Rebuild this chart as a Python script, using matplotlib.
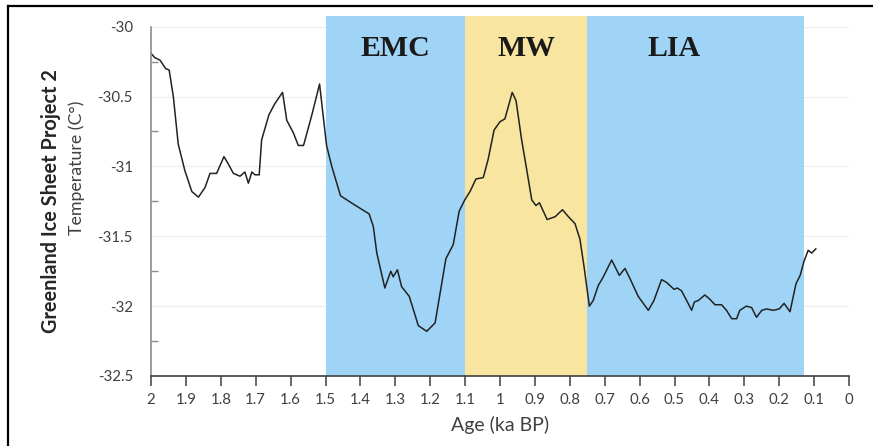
import numpy as np
import matplotlib.pyplot as plt
from matplotlib.lines import Line2D
from matplotlib.ticker import MultipleLocator, FixedLocator

plt.rcParams['font.family'] = ['Lato', 'DejaVu Sans']

# GISP2 temperature record
age = [2.000, 1.990, 1.974, 1.958, 1.948, 1.936, 1.922, 1.903, 1.883, 1.864,
       1.845, 1.831, 1.812, 1.791, 1.779, 1.764, 1.745, 1.731, 1.721, 1.711,
       1.702, 1.690, 1.683, 1.662, 1.645, 1.623, 1.611, 1.592, 1.578, 1.563,
       1.540, 1.517, 1.497, 1.482, 1.457, 1.420, 1.375, 1.363, 1.353, 1.330,
       1.313, 1.306, 1.294, 1.282, 1.260, 1.234, 1.210, 1.186, 1.155, 1.134,
       1.117, 1.101, 1.086, 1.069, 1.048, 1.034, 1.017, 1.000, 0.986, 0.976,
       0.965, 0.954, 0.938, 0.923, 0.909, 0.897, 0.887, 0.865, 0.842, 0.821,
       0.804, 0.785, 0.771, 0.759, 0.744, 0.733, 0.718, 0.706, 0.680, 0.658,
       0.642, 0.628, 0.604, 0.575, 0.559, 0.537, 0.523, 0.501, 0.492, 0.480,
       0.463, 0.451, 0.443, 0.432, 0.413, 0.399, 0.384, 0.365, 0.351, 0.336,
       0.322, 0.313, 0.294, 0.279, 0.265, 0.250, 0.236, 0.217, 0.200, 0.186,
       0.169, 0.152, 0.140, 0.129, 0.117, 0.107, 0.095]
temp = [-30.19, -30.22, -30.24, -30.30, -30.31, -30.50, -30.84, -31.03, -31.18, -31.22,
        -31.15, -31.05, -31.05, -30.93, -30.98, -31.05, -31.07, -31.04, -31.12, -31.04,
        -31.06, -31.06, -30.81, -30.63, -30.55, -30.47, -30.67, -30.76, -30.85, -30.85,
        -30.64, -30.41, -30.85, -31.00, -31.21, -31.27, -31.34, -31.43, -31.62, -31.87,
        -31.75, -31.79, -31.74, -31.86, -31.93, -32.14, -32.18, -32.12, -31.66, -31.56,
        -31.32, -31.24, -31.18, -31.09, -31.08, -30.95, -30.74, -30.68, -30.66, -30.57,
        -30.47, -30.53, -30.81, -31.03, -31.24, -31.28, -31.26, -31.38, -31.36, -31.31,
        -31.36, -31.41, -31.52, -31.72, -32.00, -31.96, -31.85, -31.80, -31.67, -31.78,
        -31.73, -31.80, -31.93, -32.03, -31.96, -31.81, -31.83, -31.88, -31.87, -31.89,
        -31.97, -32.03, -31.97, -31.96, -31.92, -31.95, -31.99, -31.99, -32.03, -32.09,
        -32.09, -32.03, -32.00, -32.01, -32.08, -32.03, -32.02, -32.03, -32.02, -31.98,
        -32.04, -31.84, -31.78, -31.68, -31.60, -31.62, -31.59]

# climate periods: name, start, end, label position
periods = ['EMC', 'MW', 'LIA']
p_start = [1.5, 1.1, 0.75]
p_end = [1.1, 0.75, 0.13]
p_label = [1.3, 0.925, 0.5]
p_color = ['#9fd4f6', '#f8e6a0', '#9fd4f6']

fig = plt.figure(figsize=(8.73, 4.46), dpi=100)
ax = fig.add_axes([151/873, 1 - 376/446, 698/873, 349.3/446])

for s, e, c in zip(p_start, p_end, p_color):
    ax.axvspan(e, s, ymin=0, ymax=1.031, color=c, lw=0, zorder=1, clip_on=False)
for name, xl in zip(periods, p_label):
    ax.text(xl, -30.155, name, ha='center', va='center', fontsize=21.5,
            fontweight='bold', family='Liberation Serif', color='#1a1a1a', zorder=3)

ax.plot(age, temp, color='#222222', lw=1.1, zorder=2)

ax.set_xlim(2, 0)
ax.set_ylim(-32.5, -30)
ax.xaxis.set_major_locator(MultipleLocator(0.1))
ax.xaxis.set_major_formatter(plt.FuncFormatter(lambda v, p: ('%.1f' % v).rstrip('0').rstrip('.') if v > 0.001 else '0'))
ax.yaxis.set_major_locator(MultipleLocator(0.5))
ax.yaxis.set_major_formatter(plt.FuncFormatter(lambda v, p: ('%g' % v)))
ax.yaxis.set_minor_locator(FixedLocator([-32.25, -31.75, -31.25, -30.75, -30.25]))
ax.grid(axis='y', color='#ececec', lw=0.8, zorder=0)
ax.set_axisbelow(True)

for sp in ['top', 'right']:
    ax.spines[sp].set_visible(False)
ax.spines['left'].set_color('#8c8c8c')
ax.spines['left'].set_linewidth(1.2)
ax.spines['bottom'].set_color('#404040')
ax.spines['bottom'].set_linewidth(1.2)

ax.tick_params(axis='x', direction='out', length=7, width=1.1, color='#404040',
               labelsize=10.8, labelcolor='#404040', pad=5)
ax.tick_params(axis='y', which='major', length=0, labelsize=10.8,
               labelcolor='#404040', pad=13)
ax.tick_params(axis='y', which='minor', direction='in', length=5, width=1,
               color='#8c8c8c')

ax.set_xlabel('Age (ka BP)', fontsize=14, color='#404040', labelpad=7)
fig.text(51/873, 1 - 201/446, 'Greenland Ice Sheet Project 2', rotation=90,
         ha='center', va='center', fontsize=14.3, fontweight='bold', color='#262626')
fig.text(77/873, 1 - 168/446, 'Temperature (C°)', rotation=90,
         ha='center', va='center', fontsize=12.8, color='#404040')

# outer frame (cropped at right and bottom)
fig.add_artist(Line2D([8/873, 8/873], [0, 1 - 6/446], color='black', lw=1.6,
                      transform=fig.transFigure))
fig.add_artist(Line2D([8/873, 1], [1 - 6/446, 1 - 6/446], color='black', lw=1.6,
                      transform=fig.transFigure))

fig.savefig('out.png', dpi=100)
